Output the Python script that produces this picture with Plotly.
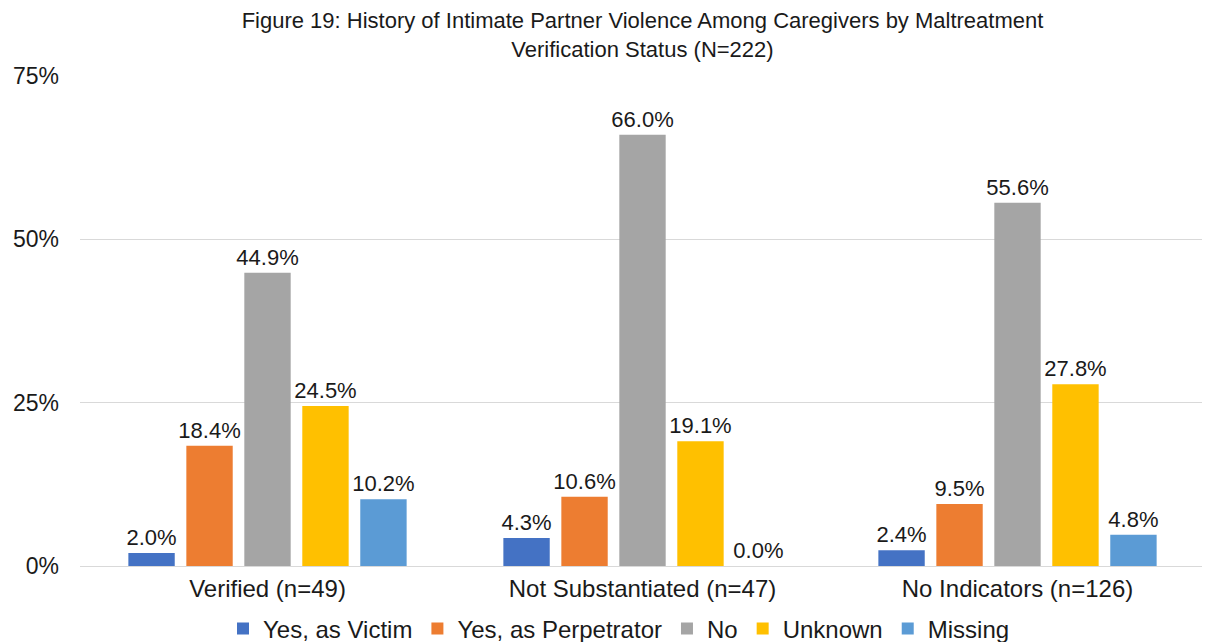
import plotly.graph_objects as go

categories = ["Verified (n=49)", "Not Substantiated (n=47)", "No Indicators (n=126)"]
series_names = ["Yes, as Victim", "Yes, as Perpetrator", "No", "Unknown", "Missing"]
victim = [2.0, 4.3, 2.4]
perpetrator = [18.4, 10.6, 9.5]
no_vals = [44.9, 66.0, 55.6]
unknown = [24.5, 19.1, 27.8]
missing = [10.2, 0.0, 4.8]
colors = ["#4472C4", "#ED7D31", "#A5A5A5", "#FFC000", "#5B9BD5"]

values = [victim, perpetrator, no_vals, unknown, missing]
font = "Liberation Sans, Arial, sans-serif"
txt = "#1a1a1a"

# The page body has an 8px margin; the figure is sized to fit the visible window.
W, H = 1202, 634

fig = go.Figure()
for name, vals, c in zip(series_names, values, colors):
    fig.add_trace(go.Bar(
        name=name, x=categories, y=[v / 100 for v in vals],
        marker=dict(color=c, line=dict(width=0)),
        text=[f"{v:.1f}%" for v in vals], textposition="outside",
        textfont=dict(size=22, color=txt, family=font),
        constraintext="none",
        cliponaxis=False,
    ))

fig.update_layout(
    width=W, height=H,
    paper_bgcolor="white", plot_bgcolor="white",
    margin=dict(l=72, r=5, t=68, b=76, autoexpand=False),
    barmode="group", bargap=0.227, bargroupgap=0.2,
    title=dict(text="Figure 19: History of Intimate Partner Violence Among Caregivers by Maltreatment<br>Verification Status (N=222)",
               x=0.5, xanchor="center", xref="paper", yref="container", y=1 - 20 / H, yanchor="top",
               pad=dict(t=0, b=0),
               font=dict(size=22, color=txt, family=font)),
    font=dict(family=font, color=txt, size=22),
    legend=dict(orientation="h", x=0.5 + 10 / W, xanchor="center", xref="container",
                yref="container", y=1 - 621 / H, yanchor="middle",
                font=dict(size=24, color=txt, family=font),
                itemwidth=30, traceorder="normal"),
    showlegend=True,
)
fig.update_yaxes(range=[0, 0.75], tickvals=[0, 0.25, 0.5, 0.75], tickformat=".0%",
                 showgrid=True, gridcolor="#D9D9D9", gridwidth=1,
                 zeroline=True, zerolinecolor="#D9D9D9", zerolinewidth=1,
                 tickfont=dict(size=23, color=txt), ticks="", ticklabelstandoff=20,
                 automargin=False)
fig.update_xaxes(showline=False, tickfont=dict(size=24, color=txt), ticks="",
                 ticklabelstandoff=6, automargin=False)

fig.write_html("out.html")
